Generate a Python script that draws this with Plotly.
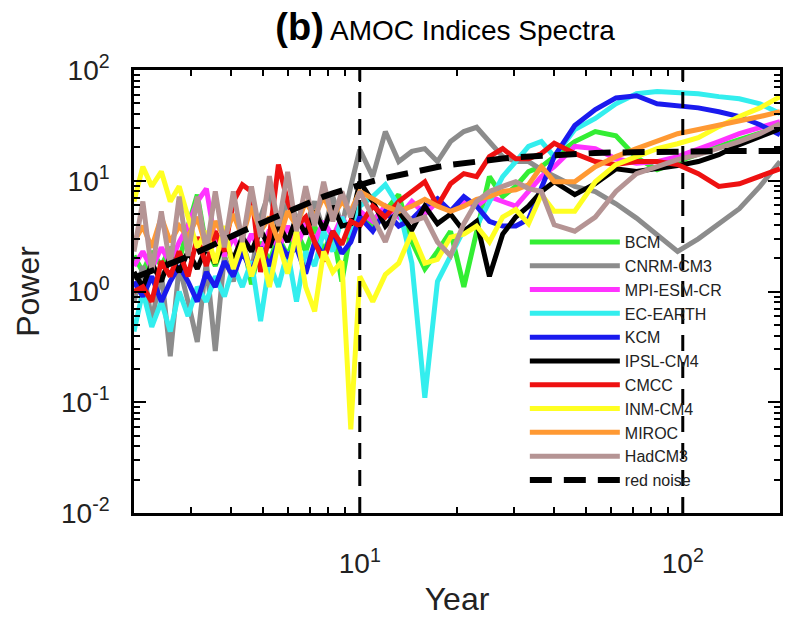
import plotly.graph_objects as go

# Period grid (years)
PERIOD = [2.00, 2.13, 2.27, 2.43, 2.59, 2.76, 2.94, 3.14, 3.35, 3.57, 3.81, 4.06, 4.33,
          4.62, 4.93, 5.25, 5.60, 5.98, 6.37, 6.80, 7.25, 7.73, 8.25, 8.80, 9.38, 10.0,
          10.97, 12.0, 13.2, 14.5, 15.9, 17.4, 19.1, 21.0, 23.0, 25.2, 27.7, 30.4, 33.3,
          36.5, 40.0, 46.3, 53.6, 62.1, 71.9, 83.3, 96.4, 111.7, 129.3, 149.7, 173.4, 200.0]

BCM = [2.1, 1.5, 2.3, 1.7, 2.5, 1.87, 3.9, 7.5, 2.5, 1.7, 2.8, 1.8, 3.1, 1.16, 2.8, 1.87,
       3.1, 2.1, 3.5, 2.3, 3.9, 2.3, 3.5, 1.23, 3.5, 5.3, 3.9, 5.3, 7.5, 2.8, 1.6, 2.3, 3.5,
       1.1, 3.5, 10.9, 7.2, 8.9, 12.1, 13.4, 16.5, 22.6, 27.8, 25.5, 16.2, 12.6, 14.9, 17.6,
       20.4, 23.5, 26.6, 30.8]
CNRM_CM3 = [0.81, 1.7, 0.54, 1.5, 0.26, 1.7, 0.81, 0.35, 1.87, 0.29, 2.1, 1.23, 2.8, 1.5,
            4.7, 8.0, 3.5, 6.5, 4.7, 3.9, 6.5, 3.5, 7.2, 3.9, 8.9, 19.1, 10.9, 27.8, 14.9,
            18.4, 19.5, 14.9, 22.6, 27.8, 30.4, 22.6, 16.5, 14.9, 14.9, 12.6, 10.9, 8.9, 8.0,
            6.2, 4.6, 3.3, 2.3, 2.99, 4.1, 5.6, 8.9, 14.9]
MPI_ESM_CR = [1.7, 2.3, 1.6, 2.5, 1.8, 2.8, 3.9, 6.5, 8.5, 2.8, 2.1, 3.1, 2.1, 3.3, 2.3, 3.6,
              2.4, 3.9, 2.5, 4.1, 2.8, 4.3, 3.1, 4.7, 3.5, 5.3, 4.3, 5.9, 4.7, 6.5, 5.0, 6.5,
              5.3, 6.5, 5.9, 7.2, 6.5, 5.9, 8.0, 10.9, 13.4, 20.4, 19.5, 15.8, 14.4, 14.9,
              16.5, 19.1, 22.6, 26.6, 30.4, 34.2]
EC_EARTH = [0.435, 1.0, 0.48, 0.81, 0.435, 1.0, 0.6, 1.1, 0.81, 1.37, 0.9, 1.7, 1.1, 1.87,
            0.54, 1.8, 1.1, 2.3, 0.81, 2.3, 1.7, 3.5, 2.3, 4.7, 3.1, 5.9, 7.2, 9.2, 5.9, 1.8,
            0.11, 1.23, 2.1, 3.6, 3.9, 6.5, 10.9, 14.9, 20.4, 22.6, 16.5, 29.0, 36.5, 49.5,
            61.0, 64.0, 63.0, 61.0, 57.5, 55.0, 49.5, 40.5]
KCM = [1.23, 0.9, 1.37, 0.81, 1.23, 1.7, 1.23, 0.81, 1.5, 1.1, 1.87, 1.37, 2.3, 1.5, 2.5,
       1.7, 2.8, 2.1, 2.5, 1.45, 2.8, 2.1, 3.5, 2.2, 2.8, 4.7, 3.5, 5.3, 3.9, 4.5, 5.9, 6.9,
       5.3, 7.2, 5.9, 4.3, 3.9, 3.9, 4.5, 8.9, 16.5, 31.5, 44.0, 56.0, 58.5, 49.5, 47.5,
       45.5, 42.0, 38.0, 32.0, 26.0]
IPSL_CM4 = [1.5, 1.1, 1.8, 1.23, 2.1, 1.5, 2.3, 1.6, 2.5, 1.8, 2.8, 1.95, 3.1, 2.3, 3.6, 2.5,
            4.1, 2.8, 4.7, 3.3, 5.3, 3.6, 5.9, 3.9, 4.1, 9.8, 6.5, 3.9, 5.3, 3.6, 5.9, 4.1,
            5.0, 3.5, 4.3, 1.37, 3.3, 4.7, 5.9, 8.0, 9.8, 7.5, 9.4, 12.8, 12.1, 12.8, 13.7,
            14.9, 17.2, 21.2, 25.0, 29.5]
CMCC = [1.0, 1.1, 0.81, 1.87, 1.37, 2.3, 1.37, 3.1, 1.7, 3.5, 2.3, 6.5, 9.2, 8.0, 1.5, 3.1,
        14.0, 6.5, 3.9, 4.7, 2.8, 1.87, 3.5, 2.65, 4.3, 3.9, 5.9, 4.7, 6.5, 8.0, 9.8, 5.9,
        9.4, 11.6, 10.9, 16.5, 19.5, 15.8, 15.8, 17.6, 21.8, 17.6, 14.9, 14.0, 14.9, 14.9,
        14.0, 11.6, 8.9, 9.4, 10.9, 12.8]
INM_CM4 = [6.5, 13.4, 8.9, 12.1, 6.5, 8.9, 4.7, 2.5, 3.5, 1.8, 3.9, 1.6, 2.8, 1.37, 2.5, 1.1,
           2.8, 1.45, 3.5, 1.1, 0.66, 2.3, 1.5, 1.87, 0.057, 1.37, 0.81, 1.42, 1.8, 3.4, 1.8,
           1.95, 3.1, 3.3, 3.9, 2.8, 4.7, 5.5, 4.1, 7.5, 5.3, 5.3, 9.8, 14.0, 16.5, 19.5,
           21.6, 24.5, 30.8, 38.0, 45.5, 57.5]
MIROC = [2.8, 3.9, 2.5, 4.7, 2.8, 3.9, 3.1, 4.7, 2.5, 4.3, 3.1, 5.0, 3.1, 5.9, 3.5, 4.7, 2.8,
         5.3, 3.9, 6.5, 4.7, 7.2, 4.7, 6.5, 5.3, 8.0, 6.9, 5.9, 5.3, 5.9, 6.8, 5.9, 5.3, 5.9,
         6.8, 7.2, 8.0, 8.3, 9.2, 13.4, 9.8, 9.8, 13.4, 16.5, 19.5, 22.6, 26.6, 29.0, 31.5,
         34.2, 38.0, 42.0]
HADCM3 = [2.3, 6.5, 1.5, 5.3, 1.7, 7.2, 2.1, 7.2, 2.3, 8.0, 2.5, 8.0, 2.8, 8.9, 3.1, 11.0,
          3.9, 12.0, 3.5, 8.9, 3.9, 9.8, 4.3, 8.0, 4.7, 8.0, 4.7, 2.8, 5.9, 4.3, 4.7, 2.8,
          2.1, 4.1, 6.5, 8.0, 8.9, 9.8, 8.5, 8.0, 4.0, 3.5, 4.7, 8.0, 11.6, 13.4, 15.5, 17.2,
          19.5, 22.6, 26.6, 32.8]
RED_NOISE = [1.33, 1.42, 1.52, 1.65, 1.78, 1.92, 2.07, 2.25, 2.45, 2.7, 2.95, 3.2, 3.5, 3.8,
             4.15, 4.5, 4.9, 5.3, 5.7, 6.2, 6.7, 7.2, 7.7, 8.2, 8.7, 9.2, 9.9, 10.6, 11.3,
             12.0, 12.7, 13.3, 13.9, 14.5, 15.0, 15.5, 15.9, 16.3, 16.6, 16.9, 17.2, 17.5,
             17.8, 18.0, 18.2, 18.3, 18.4, 18.5, 18.5, 18.6, 18.6, 18.6]

MODELS = ["BCM", "CNRM-CM3", "MPI-ESM-CR", "EC-EARTH", "KCM", "IPSL-CM4", "CMCC",
          "INM-CM4", "MIROC", "HadCM3"]
SERIES = [BCM, CNRM_CM3, MPI_ESM_CR, EC_EARTH, KCM, IPSL_CM4, CMCC, INM_CM4, MIROC, HADCM3]
COLORS = ["#33ee33", "#8c8c8c", "#ff33ff", "#33eeee", "#1a1aee", "#000000", "#ee1111",
          "#ffff22", "#ff9933", "#b59494"]

MARK_YEARS = [10, 100]

FONT = "Liberation Sans, Arial, sans-serif"

fig = go.Figure()
for name, vals, col in zip(MODELS, SERIES, COLORS):
    fig.add_trace(go.Scatter(x=PERIOD, y=vals, mode="lines", name=name,
                             line=dict(color=col, width=5)))
fig.add_trace(go.Scatter(x=PERIOD, y=RED_NOISE, mode="lines", name="red noise",
                         line=dict(color="black", width=6, dash="22px,12px")))

for yr in MARK_YEARS:
    fig.add_shape(type="line", x0=yr, x1=yr, xref="x", y0=0, y1=1, yref="paper",
                  line=dict(color="black", width=3, dash="16px,11px"), layer="above")

x_minor = [3, 4, 5, 6, 7, 8, 9, 20, 30, 40, 50, 60, 70, 80, 90, 200]
y_minor = []
for dec in [0.01, 0.1, 1, 10]:
    y_minor += [dec * k for k in range(2, 10)]

fig.update_layout(
    width=792, height=617,
    margin=dict(l=134, r=12, t=70, b=104),
    paper_bgcolor="white", plot_bgcolor="white",
    font=dict(family=FONT, color="black"),
    title=dict(text="<span style='font-size:38px'><b>(b)</b></span> AMOC Indices Spectra",
               font=dict(size=28, family=FONT, color="black"),
               x=0.562, xref="container", xanchor="center",
               y=1 - 30 / 617, yref="container", yanchor="middle"),
    showlegend=True,
    legend=dict(x=0.605, y=0.65, xanchor="left", yanchor="top",
                bgcolor="rgba(0,0,0,0)", borderwidth=0,
                font=dict(size=16, family=FONT, color="#222"),
                itemwidth=90, tracegroupgap=0),
)

fig.update_xaxes(
    type="log", range=[0.30103, 2.30103], automargin=False,
    tickvals=MARK_YEARS, ticktext=["10<sup>1</sup>", "10<sup>2</sup>"],
    ticks="inside", ticklen=12, tickwidth=2, tickcolor="black",
    showline=True, linecolor="black", linewidth=2.5, mirror="ticks",
    showgrid=False, zeroline=False,
    tickfont=dict(size=28, family=FONT, color="#222"),
    ticklabelstandoff=24,
    minor=dict(tickvals=x_minor, ticks="inside", ticklen=6, tickwidth=1.5,
               tickcolor="black", showgrid=False),
    title=dict(text="Year", font=dict(size=32, family=FONT, color="#222"), standoff=22),
)
fig.update_yaxes(
    type="log", range=[-2, 2], automargin=False,
    tickvals=[0.01, 0.1, 1, 10, 100],
    ticktext=["10<sup>-2</sup>", "10<sup>-1</sup>", "10<sup>0</sup>", "10<sup>1</sup>", "10<sup>2</sup>"],
    ticks="inside", ticklen=12, tickwidth=2, tickcolor="black",
    showline=True, linecolor="black", linewidth=2.5, mirror="ticks",
    showgrid=False, zeroline=False,
    tickfont=dict(size=28, family=FONT, color="#222"),
    ticklabelstandoff=16,
    minor=dict(tickvals=y_minor, ticks="inside", ticklen=6, tickwidth=1.5,
               tickcolor="black", showgrid=False),
    title=dict(text="Power", font=dict(size=32, family=FONT, color="#222"), standoff=12),
)

fig.write_html("out.html")
